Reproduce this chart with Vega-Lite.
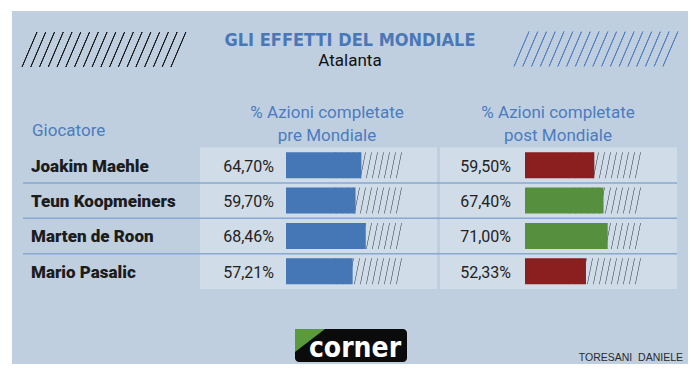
{
  "$schema": "https://vega.github.io/schema/vega-lite/v6.json",
  "width": 676,
  "height": 353,
  "autosize": "none",
  "padding": {"left": 12, "top": 11, "right": 12, "bottom": 12},
  "background": "#ffffff",
  "config": {
    "view": {"fill": "#bfcfe0", "stroke": null},
    "locale": {"number": {"decimal": ",", "thousands": ".", "grouping": [3], "currency": ["", " €"]}},
    "text": {"font": "Roboto"}
  },
  "data": {
    "values": [
      {"giocatore": "Joakim Maehle", "pre": 0.647, "post": 0.595, "esito": "peggiorato"},
      {"giocatore": "Teun Koopmeiners", "pre": 0.597, "post": 0.674, "esito": "migliorato"},
      {"giocatore": "Marten de Roon", "pre": 0.6846, "post": 0.71, "esito": "migliorato"},
      {"giocatore": "Mario Pasalic", "pre": 0.5721, "post": 0.5233, "esito": "peggiorato"}
    ]
  },
  "resolve": {"scale": {"x": "independent"}},
  "layer": [
    {
      "data": {"values": [{}]},
      "mark": {"type": "rect", "x": 188, "x2": 425, "y": 136.5, "y2": 278, "fill": "#d1dce9"},
      "encoding": {}
    },
    {
      "data": {"values": [{}]},
      "mark": {"type": "rect", "x": 428, "x2": 665, "y": 136.5, "y2": 278, "fill": "#d1dce9"},
      "encoding": {}
    },
    {
      "transform": [{"filter": "datum.giocatore != 'Mario Pasalic'"}],
      "mark": {"type": "rule", "x": 11, "x2": 665, "stroke": "#86a8d2", "strokeWidth": 1.5},
      "encoding": {
        "y": {"field": "giocatore", "type": "nominal", "bandPosition": 1, "axis": null,
              "scale": {"domain": ["Joakim Maehle", "Teun Koopmeiners", "Marten de Roon", "Mario Pasalic"], "range": [136.5, 278], "paddingInner": 0, "paddingOuter": 0}}
      }
    },
    {
      "mark": {"type": "bar", "height": 26,
        "fill": {"gradient": "linear", "x1": 0, "y1": 0, "x2": 1, "y2": 0.045, "stops": [
          {"offset": 0, "color": "#d1dce9"},
          {"offset": 0.4186, "color": "#d1dce9"}, {"offset": 0.4221, "color": "#7b8591"}, {"offset": 0.4271, "color": "#7b8591"}, {"offset": 0.4306, "color": "#d1dce9"},
          {"offset": 0.4700, "color": "#d1dce9"}, {"offset": 0.4735, "color": "#7b8591"}, {"offset": 0.4785, "color": "#7b8591"}, {"offset": 0.4820, "color": "#d1dce9"},
          {"offset": 0.5214, "color": "#d1dce9"}, {"offset": 0.5249, "color": "#7b8591"}, {"offset": 0.5299, "color": "#7b8591"}, {"offset": 0.5334, "color": "#d1dce9"},
          {"offset": 0.5728, "color": "#d1dce9"}, {"offset": 0.5763, "color": "#7b8591"}, {"offset": 0.5813, "color": "#7b8591"}, {"offset": 0.5848, "color": "#d1dce9"},
          {"offset": 0.6242, "color": "#d1dce9"}, {"offset": 0.6277, "color": "#7b8591"}, {"offset": 0.6327, "color": "#7b8591"}, {"offset": 0.6362, "color": "#d1dce9"},
          {"offset": 0.6756, "color": "#d1dce9"}, {"offset": 0.6791, "color": "#7b8591"}, {"offset": 0.6841, "color": "#7b8591"}, {"offset": 0.6876, "color": "#d1dce9"},
          {"offset": 0.7270, "color": "#d1dce9"}, {"offset": 0.7305, "color": "#7b8591"}, {"offset": 0.7355, "color": "#7b8591"}, {"offset": 0.7390, "color": "#d1dce9"},
          {"offset": 0.7784, "color": "#d1dce9"}, {"offset": 0.7819, "color": "#7b8591"}, {"offset": 0.7869, "color": "#7b8591"}, {"offset": 0.7904, "color": "#d1dce9"},
          {"offset": 0.8298, "color": "#d1dce9"}, {"offset": 0.8333, "color": "#7b8591"}, {"offset": 0.8383, "color": "#7b8591"}, {"offset": 0.8418, "color": "#d1dce9"},
          {"offset": 0.8812, "color": "#d1dce9"}, {"offset": 0.8847, "color": "#7b8591"}, {"offset": 0.8897, "color": "#7b8591"}, {"offset": 0.8932, "color": "#d1dce9"},
          {"offset": 0.9326, "color": "#d1dce9"}, {"offset": 0.9361, "color": "#7b8591"}, {"offset": 0.9411, "color": "#7b8591"}, {"offset": 0.9446, "color": "#d1dce9"},
          {"offset": 0.9840, "color": "#d1dce9"}, {"offset": 0.9875, "color": "#7b8591"}, {"offset": 0.9925, "color": "#7b8591"}, {"offset": 0.9960, "color": "#d1dce9"},
          {"offset": 1, "color": "#d1dce9"}
        ]}},
      "encoding": {
        "x": {"datum": 0, "type": "quantitative", "axis": null, "scale": {"domain": [0, 1], "range": [274, 390.5]}},
        "x2": {"datum": 1},
        "y": {"field": "giocatore", "type": "nominal", "axis": null,
              "scale": {"domain": ["Joakim Maehle", "Teun Koopmeiners", "Marten de Roon", "Mario Pasalic"], "range": [136.5, 278], "paddingInner": 0, "paddingOuter": 0}}
      }
    },
    {
      "mark": {"type": "bar", "height": 26,
        "fill": {"gradient": "linear", "x1": 0, "y1": 0, "x2": 1, "y2": 0.045, "stops": [
          {"offset": 0, "color": "#d1dce9"},
          {"offset": 0.4186, "color": "#d1dce9"}, {"offset": 0.4221, "color": "#7b8591"}, {"offset": 0.4271, "color": "#7b8591"}, {"offset": 0.4306, "color": "#d1dce9"},
          {"offset": 0.4700, "color": "#d1dce9"}, {"offset": 0.4735, "color": "#7b8591"}, {"offset": 0.4785, "color": "#7b8591"}, {"offset": 0.4820, "color": "#d1dce9"},
          {"offset": 0.5214, "color": "#d1dce9"}, {"offset": 0.5249, "color": "#7b8591"}, {"offset": 0.5299, "color": "#7b8591"}, {"offset": 0.5334, "color": "#d1dce9"},
          {"offset": 0.5728, "color": "#d1dce9"}, {"offset": 0.5763, "color": "#7b8591"}, {"offset": 0.5813, "color": "#7b8591"}, {"offset": 0.5848, "color": "#d1dce9"},
          {"offset": 0.6242, "color": "#d1dce9"}, {"offset": 0.6277, "color": "#7b8591"}, {"offset": 0.6327, "color": "#7b8591"}, {"offset": 0.6362, "color": "#d1dce9"},
          {"offset": 0.6756, "color": "#d1dce9"}, {"offset": 0.6791, "color": "#7b8591"}, {"offset": 0.6841, "color": "#7b8591"}, {"offset": 0.6876, "color": "#d1dce9"},
          {"offset": 0.7270, "color": "#d1dce9"}, {"offset": 0.7305, "color": "#7b8591"}, {"offset": 0.7355, "color": "#7b8591"}, {"offset": 0.7390, "color": "#d1dce9"},
          {"offset": 0.7784, "color": "#d1dce9"}, {"offset": 0.7819, "color": "#7b8591"}, {"offset": 0.7869, "color": "#7b8591"}, {"offset": 0.7904, "color": "#d1dce9"},
          {"offset": 0.8298, "color": "#d1dce9"}, {"offset": 0.8333, "color": "#7b8591"}, {"offset": 0.8383, "color": "#7b8591"}, {"offset": 0.8418, "color": "#d1dce9"},
          {"offset": 0.8812, "color": "#d1dce9"}, {"offset": 0.8847, "color": "#7b8591"}, {"offset": 0.8897, "color": "#7b8591"}, {"offset": 0.8932, "color": "#d1dce9"},
          {"offset": 0.9326, "color": "#d1dce9"}, {"offset": 0.9361, "color": "#7b8591"}, {"offset": 0.9411, "color": "#7b8591"}, {"offset": 0.9446, "color": "#d1dce9"},
          {"offset": 0.9840, "color": "#d1dce9"}, {"offset": 0.9875, "color": "#7b8591"}, {"offset": 0.9925, "color": "#7b8591"}, {"offset": 0.9960, "color": "#d1dce9"},
          {"offset": 1, "color": "#d1dce9"}
        ]}},
      "encoding": {
        "x": {"datum": 0, "type": "quantitative", "axis": null, "scale": {"domain": [0, 1], "range": [513, 629.5]}},
        "x2": {"datum": 1},
        "y": {"field": "giocatore", "type": "nominal", "axis": null,
              "scale": {"domain": ["Joakim Maehle", "Teun Koopmeiners", "Marten de Roon", "Mario Pasalic"], "range": [136.5, 278], "paddingInner": 0, "paddingOuter": 0}}
      }
    },
    {
      "mark": {"type": "bar", "height": 26, "fill": "#4577b6"},
      "encoding": {
        "x": {"field": "pre", "type": "quantitative", "axis": null, "scale": {"domain": [0, 1], "range": [274, 390.5]}},
        "y": {"field": "giocatore", "type": "nominal", "axis": null,
              "scale": {"domain": ["Joakim Maehle", "Teun Koopmeiners", "Marten de Roon", "Mario Pasalic"], "range": [136.5, 278], "paddingInner": 0, "paddingOuter": 0}}
      }
    },
    {
      "mark": {"type": "bar", "height": 26},
      "encoding": {
        "x": {"field": "post", "type": "quantitative", "axis": null, "scale": {"domain": [0, 1], "range": [513, 629.5]}},
        "y": {"field": "giocatore", "type": "nominal", "axis": null,
              "scale": {"domain": ["Joakim Maehle", "Teun Koopmeiners", "Marten de Roon", "Mario Pasalic"], "range": [136.5, 278], "paddingInner": 0, "paddingOuter": 0}},
        "fill": {"field": "esito", "type": "nominal", "legend": null,
                 "scale": {"domain": ["peggiorato", "migliorato"], "range": ["#8b1e1e", "#56903f"]}}
      }
    },
    {
      "mark": {"type": "text", "align": "right", "baseline": "middle", "dx": -12, "dy": 1.5, "fontSize": 16, "fill": "#222222"},
      "encoding": {
        "x": {"datum": 0, "type": "quantitative", "axis": null, "scale": {"domain": [0, 1], "range": [274, 390.5]}},
        "y": {"field": "giocatore", "type": "nominal", "axis": null,
              "scale": {"domain": ["Joakim Maehle", "Teun Koopmeiners", "Marten de Roon", "Mario Pasalic"], "range": [136.5, 278], "paddingInner": 0, "paddingOuter": 0}},
        "text": {"field": "pre", "type": "quantitative", "format": ".2%"}
      }
    },
    {
      "mark": {"type": "text", "align": "right", "baseline": "middle", "dx": -14, "dy": 1.5, "fontSize": 16, "fill": "#222222"},
      "encoding": {
        "x": {"datum": 0, "type": "quantitative", "axis": null, "scale": {"domain": [0, 1], "range": [513, 629.5]}},
        "y": {"field": "giocatore", "type": "nominal", "axis": null,
              "scale": {"domain": ["Joakim Maehle", "Teun Koopmeiners", "Marten de Roon", "Mario Pasalic"], "range": [136.5, 278], "paddingInner": 0, "paddingOuter": 0}},
        "text": {"field": "post", "type": "quantitative", "format": ".2%"}
      }
    },
    {
      "mark": {"type": "text", "align": "left", "baseline": "middle", "x": 19, "dy": 1.5, "fontSize": 17, "fontWeight": 900, "fill": "#1c1c1c"},
      "encoding": {
        "y": {"field": "giocatore", "type": "nominal", "axis": null,
              "scale": {"domain": ["Joakim Maehle", "Teun Koopmeiners", "Marten de Roon", "Mario Pasalic"], "range": [136.5, 278], "paddingInner": 0, "paddingOuter": 0}},
        "text": {"field": "giocatore", "type": "nominal"}
      }
    },
    {
      "data": {"values": [{}]},
      "mark": {"type": "text", "text": "Giocatore", "x": 20, "y": 125, "align": "left", "baseline": "alphabetic", "fontSize": 17, "fill": "#4b7cbf"},
      "encoding": {}
    },
    {
      "data": {"values": [{}]},
      "mark": {"type": "text", "text": ["% Azioni completate", "pre Mondiale"], "x": 315, "y": 107, "align": "center", "baseline": "alphabetic", "lineHeight": 23, "fontSize": 17, "fill": "#4b7cbf"},
      "encoding": {}
    },
    {
      "data": {"values": [{}]},
      "mark": {"type": "text", "text": ["% Azioni completate", "post Mondiale"], "x": 546, "y": 107, "align": "center", "baseline": "alphabetic", "lineHeight": 23, "fontSize": 17, "fill": "#4b7cbf"},
      "encoding": {}
    },
    {
      "data": {"values": [{}]},
      "mark": {"type": "text", "text": "GLI EFFETTI DEL MONDIALE", "x": 338, "y": 34.5, "align": "center", "baseline": "alphabetic", "font": "DejaVu Sans Condensed", "fontSize": 18, "fontWeight": "bold", "fill": "#4a78b6"},
      "encoding": {}
    },
    {
      "data": {"values": [{}]},
      "mark": {"type": "text", "text": "Atalanta", "x": 338, "y": 55, "align": "center", "baseline": "alphabetic", "fontSize": 17, "fill": "#111111"},
      "encoding": {}
    },
    {
      "data": {"values": [{}]},
      "mark": {"type": "point", "x": 92, "y": 38.5, "filled": true, "opacity": 1, "strokeWidth": 0, "size": 27556,
        "shape": "M -1 0.2108 L -0.8193 -0.2108 L 1 -0.2108 L 0.8193 0.2108 Z",
        "fill": {"gradient": "linear", "x1": 0, "y1": 0, "x2": 1, "y2": 0.0904, "stops": [
          {"offset": 0, "color": "#bfcfe0"},
          {"offset": 0.0901, "color": "#bfcfe0"}, {"offset": 0.0931, "color": "#1e1e1e"}, {"offset": 0.0981, "color": "#1e1e1e"}, {"offset": 0.1011, "color": "#bfcfe0"},
          {"offset": 0.1424, "color": "#bfcfe0"}, {"offset": 0.1454, "color": "#1e1e1e"}, {"offset": 0.1504, "color": "#1e1e1e"}, {"offset": 0.1534, "color": "#bfcfe0"},
          {"offset": 0.1948, "color": "#bfcfe0"}, {"offset": 0.1978, "color": "#1e1e1e"}, {"offset": 0.2028, "color": "#1e1e1e"}, {"offset": 0.2058, "color": "#bfcfe0"},
          {"offset": 0.2471, "color": "#bfcfe0"}, {"offset": 0.2501, "color": "#1e1e1e"}, {"offset": 0.2551, "color": "#1e1e1e"}, {"offset": 0.2581, "color": "#bfcfe0"},
          {"offset": 0.2995, "color": "#bfcfe0"}, {"offset": 0.3025, "color": "#1e1e1e"}, {"offset": 0.3075, "color": "#1e1e1e"}, {"offset": 0.3105, "color": "#bfcfe0"},
          {"offset": 0.3518, "color": "#bfcfe0"}, {"offset": 0.3548, "color": "#1e1e1e"}, {"offset": 0.3598, "color": "#1e1e1e"}, {"offset": 0.3628, "color": "#bfcfe0"},
          {"offset": 0.4041, "color": "#bfcfe0"}, {"offset": 0.4071, "color": "#1e1e1e"}, {"offset": 0.4121, "color": "#1e1e1e"}, {"offset": 0.4151, "color": "#bfcfe0"},
          {"offset": 0.4565, "color": "#bfcfe0"}, {"offset": 0.4595, "color": "#1e1e1e"}, {"offset": 0.4645, "color": "#1e1e1e"}, {"offset": 0.4675, "color": "#bfcfe0"},
          {"offset": 0.5088, "color": "#bfcfe0"}, {"offset": 0.5118, "color": "#1e1e1e"}, {"offset": 0.5168, "color": "#1e1e1e"}, {"offset": 0.5198, "color": "#bfcfe0"},
          {"offset": 0.5612, "color": "#bfcfe0"}, {"offset": 0.5642, "color": "#1e1e1e"}, {"offset": 0.5692, "color": "#1e1e1e"}, {"offset": 0.5722, "color": "#bfcfe0"},
          {"offset": 0.6135, "color": "#bfcfe0"}, {"offset": 0.6165, "color": "#1e1e1e"}, {"offset": 0.6215, "color": "#1e1e1e"}, {"offset": 0.6245, "color": "#bfcfe0"},
          {"offset": 0.6658, "color": "#bfcfe0"}, {"offset": 0.6688, "color": "#1e1e1e"}, {"offset": 0.6738, "color": "#1e1e1e"}, {"offset": 0.6768, "color": "#bfcfe0"},
          {"offset": 0.7182, "color": "#bfcfe0"}, {"offset": 0.7212, "color": "#1e1e1e"}, {"offset": 0.7262, "color": "#1e1e1e"}, {"offset": 0.7292, "color": "#bfcfe0"},
          {"offset": 0.7705, "color": "#bfcfe0"}, {"offset": 0.7735, "color": "#1e1e1e"}, {"offset": 0.7785, "color": "#1e1e1e"}, {"offset": 0.7815, "color": "#bfcfe0"},
          {"offset": 0.8229, "color": "#bfcfe0"}, {"offset": 0.8259, "color": "#1e1e1e"}, {"offset": 0.8309, "color": "#1e1e1e"}, {"offset": 0.8339, "color": "#bfcfe0"},
          {"offset": 0.8752, "color": "#bfcfe0"}, {"offset": 0.8782, "color": "#1e1e1e"}, {"offset": 0.8832, "color": "#1e1e1e"}, {"offset": 0.8862, "color": "#bfcfe0"},
          {"offset": 0.9275, "color": "#bfcfe0"}, {"offset": 0.9305, "color": "#1e1e1e"}, {"offset": 0.9355, "color": "#1e1e1e"}, {"offset": 0.9385, "color": "#bfcfe0"},
          {"offset": 0.9799, "color": "#bfcfe0"}, {"offset": 0.9829, "color": "#1e1e1e"}, {"offset": 0.9879, "color": "#1e1e1e"}, {"offset": 0.9909, "color": "#bfcfe0"},
          {"offset": 1, "color": "#bfcfe0"}
        ]}},
      "encoding": {}
    },
    {
      "data": {"values": [{}]},
      "mark": {"type": "point", "x": 584, "y": 38, "filled": true, "opacity": 1, "strokeWidth": 0, "size": 27556,
        "shape": "M -1 0.2108 L -0.8193 -0.2108 L 1 -0.2108 L 0.8193 0.2108 Z",
        "fill": {"gradient": "linear", "x1": 0, "y1": 0, "x2": 1, "y2": 0.0904, "stops": [
          {"offset": 0, "color": "#bfcfe0"},
          {"offset": 0.0901, "color": "#bfcfe0"}, {"offset": 0.0931, "color": "#5783c3"}, {"offset": 0.0981, "color": "#5783c3"}, {"offset": 0.1011, "color": "#bfcfe0"},
          {"offset": 0.1424, "color": "#bfcfe0"}, {"offset": 0.1454, "color": "#5783c3"}, {"offset": 0.1504, "color": "#5783c3"}, {"offset": 0.1534, "color": "#bfcfe0"},
          {"offset": 0.1948, "color": "#bfcfe0"}, {"offset": 0.1978, "color": "#5783c3"}, {"offset": 0.2028, "color": "#5783c3"}, {"offset": 0.2058, "color": "#bfcfe0"},
          {"offset": 0.2471, "color": "#bfcfe0"}, {"offset": 0.2501, "color": "#5783c3"}, {"offset": 0.2551, "color": "#5783c3"}, {"offset": 0.2581, "color": "#bfcfe0"},
          {"offset": 0.2995, "color": "#bfcfe0"}, {"offset": 0.3025, "color": "#5783c3"}, {"offset": 0.3075, "color": "#5783c3"}, {"offset": 0.3105, "color": "#bfcfe0"},
          {"offset": 0.3518, "color": "#bfcfe0"}, {"offset": 0.3548, "color": "#5783c3"}, {"offset": 0.3598, "color": "#5783c3"}, {"offset": 0.3628, "color": "#bfcfe0"},
          {"offset": 0.4041, "color": "#bfcfe0"}, {"offset": 0.4071, "color": "#5783c3"}, {"offset": 0.4121, "color": "#5783c3"}, {"offset": 0.4151, "color": "#bfcfe0"},
          {"offset": 0.4565, "color": "#bfcfe0"}, {"offset": 0.4595, "color": "#5783c3"}, {"offset": 0.4645, "color": "#5783c3"}, {"offset": 0.4675, "color": "#bfcfe0"},
          {"offset": 0.5088, "color": "#bfcfe0"}, {"offset": 0.5118, "color": "#5783c3"}, {"offset": 0.5168, "color": "#5783c3"}, {"offset": 0.5198, "color": "#bfcfe0"},
          {"offset": 0.5612, "color": "#bfcfe0"}, {"offset": 0.5642, "color": "#5783c3"}, {"offset": 0.5692, "color": "#5783c3"}, {"offset": 0.5722, "color": "#bfcfe0"},
          {"offset": 0.6135, "color": "#bfcfe0"}, {"offset": 0.6165, "color": "#5783c3"}, {"offset": 0.6215, "color": "#5783c3"}, {"offset": 0.6245, "color": "#bfcfe0"},
          {"offset": 0.6658, "color": "#bfcfe0"}, {"offset": 0.6688, "color": "#5783c3"}, {"offset": 0.6738, "color": "#5783c3"}, {"offset": 0.6768, "color": "#bfcfe0"},
          {"offset": 0.7182, "color": "#bfcfe0"}, {"offset": 0.7212, "color": "#5783c3"}, {"offset": 0.7262, "color": "#5783c3"}, {"offset": 0.7292, "color": "#bfcfe0"},
          {"offset": 0.7705, "color": "#bfcfe0"}, {"offset": 0.7735, "color": "#5783c3"}, {"offset": 0.7785, "color": "#5783c3"}, {"offset": 0.7815, "color": "#bfcfe0"},
          {"offset": 0.8229, "color": "#bfcfe0"}, {"offset": 0.8259, "color": "#5783c3"}, {"offset": 0.8309, "color": "#5783c3"}, {"offset": 0.8339, "color": "#bfcfe0"},
          {"offset": 0.8752, "color": "#bfcfe0"}, {"offset": 0.8782, "color": "#5783c3"}, {"offset": 0.8832, "color": "#5783c3"}, {"offset": 0.8862, "color": "#bfcfe0"},
          {"offset": 0.9275, "color": "#bfcfe0"}, {"offset": 0.9305, "color": "#5783c3"}, {"offset": 0.9355, "color": "#5783c3"}, {"offset": 0.9385, "color": "#bfcfe0"},
          {"offset": 0.9799, "color": "#bfcfe0"}, {"offset": 0.9829, "color": "#5783c3"}, {"offset": 0.9879, "color": "#5783c3"}, {"offset": 0.9909, "color": "#bfcfe0"},
          {"offset": 1, "color": "#bfcfe0"}
        ]}},
      "encoding": {}
    },
    {
      "data": {"values": [{}]},
      "mark": {"type": "rect", "x": 283, "x2": 395, "y": 318, "y2": 351, "fill": "#0b0b0b", "cornerRadius": 4},
      "encoding": {}
    },
    {
      "data": {"values": [{}]},
      "mark": {"type": "point", "x": 298, "y": 329.5, "filled": true, "opacity": 1, "strokeWidth": 0, "size": 900,
        "shape": "M -1 -0.7667 L 1 -0.7667 L -1 0.7667 Z", "fill": "#5a9a3c"},
      "encoding": {}
    },
    {
      "data": {"values": [{}]},
      "mark": {"type": "text", "text": "corner", "x": 343, "y": 346, "align": "center", "baseline": "alphabetic", "font": "DejaVu Sans Condensed", "fontSize": 28, "fontWeight": "bold", "fill": "#ffffff"},
      "encoding": {}
    },
    {
      "data": {"values": [{}]},
      "mark": {"type": "text", "text": "TORESANI\u00a0\u00a0DANIELE", "x": 671, "y": 350, "align": "right", "baseline": "alphabetic", "font": "Liberation Sans", "fontSize": 10.5, "fill": "#2a2a2a"},
      "encoding": {}
    }
  ]
}
